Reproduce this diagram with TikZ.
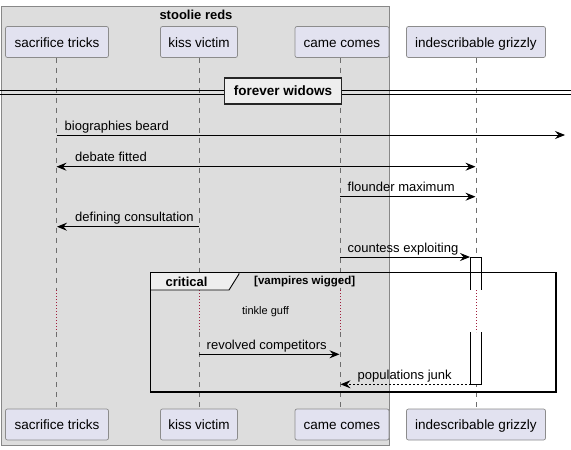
\documentclass[tikz,border=0pt]{standalone}
\usepackage{fontspec}
\setmainfont{Liberation Sans}
\usetikzlibrary{arrows.meta}
\definecolor{grpfill}{RGB}{221,221,221}
\definecolor{grpline}{RGB}{136,136,136}
\definecolor{partfill}{RGB}{226,226,240}
\definecolor{partline}{RGB}{140,140,140}
\definecolor{tabfill}{RGB}{238,238,238}
\definecolor{delaycol}{RGB}{160,30,60}
\definecolor{lifecol}{RGB}{110,110,110}
\begin{document}
\begin{tikzpicture}[x=1pt,y=-1pt,
  part/.style={draw=partline,line width=0.7pt,fill=partfill,rounded corners=2pt,
    minimum height=31pt,inner xsep=0pt,text height=11.5pt,text depth=1.5pt,font=\fontsize{13.5}{15}\selectfont},
  life/.style={draw=lifecol,line width=0.6pt,dash pattern=on 5pt off 5pt},
  delay/.style={draw=delaycol,line width=0.8pt,dash pattern=on 1pt off 2pt},
  msg/.style={draw=black,line width=0.8pt,-{Stealth[length=10pt,width=8pt,inset=3.5pt]}},
  dmsg/.style={msg,dash pattern=on 2pt off 2pt},
  bmsg/.style={draw=black,line width=0.8pt,{Stealth[length=10pt,width=8pt,inset=3.5pt]}-{Stealth[length=10pt,width=8pt,inset=3.5pt]}},
  lbl/.style={anchor=base west,inner sep=0pt,font=\fontsize{13}{15}\selectfont},
  boldtxt/.style={inner sep=0pt,font=\fontsize{13}{15}\selectfont\bfseries}]
\useasboundingbox (0,0) rectangle (571,450);
\fill[white] (0,0) rectangle (571,450);
% group box
\draw[fill=grpfill,draw=grpline,line width=0.8pt] (1,6.7) rectangle (389.5,445);
\node[boldtxt] (grptitle) at (196,15) {stoolie reds};
% participants
\node[part,minimum width=103pt] (sT) at (57,42) {sacrifice tricks};
\node[part,minimum width=77pt] (kT) at (199,42) {kiss victim};
\node[part,minimum width=94pt] (cT) at (342,42) {came comes};
\node[part,minimum width=139pt] (iT) at (476,42) {indescribable grizzly};
\node[part,minimum width=103pt] (sB) at (57,424.5) {sacrifice tricks};
\node[part,minimum width=77pt] (kB) at (199,424.5) {kiss victim};
\node[part,minimum width=94pt] (cB) at (342,424.5) {came comes};
\node[part,minimum width=139pt] (iB) at (476,424.5) {indescribable grizzly};
% lifeline coordinates
\coordinate (sA) at (56.5,57.5); \coordinate (sD1) at (56.5,290); \coordinate (sD2) at (56.5,332); \coordinate (sZ) at (56.5,409);
\coordinate (kA) at (199,57.5); \coordinate (kD1) at (199,290); \coordinate (kD2) at (199,332); \coordinate (kZ) at (199,409);
\coordinate (cA) at (340,57.5); \coordinate (cD1) at (340,290); \coordinate (cD2) at (340,332); \coordinate (cZ) at (340,409);
\coordinate (iA) at (476,57.5); \coordinate (iD1) at (476,290); \coordinate (iD2) at (476,332); \coordinate (iZ) at (476,409);
\draw[life] (sA) -- (sD1); \draw[life] (sD2) -- (sZ);
\draw[life] (kA) -- (kD1); \draw[life] (kD2) -- (kZ);
\draw[life] (cA) -- (cD1); \draw[life] (cD2) -- (cZ);
\draw[life] (iA) -- (iD1); \draw[life] (iD2) -- (iZ);
\draw[delay] (sD1) -- (sD2);
\draw[delay] (kD1) -- (kD2);
\draw[delay] (cD1) -- (cD2);
% divider
\coordinate (dl1) at (0,90.7); \coordinate (dr1) at (571,90.7);
\coordinate (dl2) at (0,94.2); \coordinate (dr2) at (571,94.2);
\draw[line width=1pt] (dl1) -- (dr1);
\draw[line width=1pt] (dl2) -- (dr2);
\node[draw=black!85,line width=1.8pt,fill=tabfill,minimum width=117pt,minimum height=26pt,inner sep=0pt,
  font=\fontsize{13.5}{15}\selectfont\bfseries] (div) at (283,91) {forever widows};
% activation
\coordinate (a1) at (470.5,257); \coordinate (a2) at (481,257);
\coordinate (a3) at (470.5,384.3); \coordinate (a4) at (481,384.3);
\fill[white] (a1) rectangle (a4);
\draw[line width=0.8pt] (470.5,290) -- (a1) -- (a2) -- (481,290);
\draw[line width=0.8pt] (470.5,332) -- (a3) -- (a4) -- (481,332);
\draw[delay] (iD1) -- (iD2);
% messages
\coordinate (m1a) at (56.5,135); \coordinate (m1b) at (565,135);
\draw[msg] (m1a) -- (m1b);
\node[lbl] (t1) at (64.5,130) {biographies beard};
\coordinate (m2a) at (56.5,166.7); \coordinate (m2b) at (475.5,166.7);
\draw[bmsg] (m2a) -- (m2b);
\node[lbl] (t2) at (75,161.7) {debate fitted};
\coordinate (m3a) at (340,196.7); \coordinate (m3b) at (475.5,196.7);
\draw[msg] (m3a) -- (m3b);
\node[lbl] (t3) at (347.5,191.7) {flounder maximum};
\coordinate (m4a) at (199,226.7); \coordinate (m4b) at (57,226.7);
\draw[msg] (m4a) -- (m4b);
\node[lbl] (t4) at (75,221.7) {defining consultation};
\coordinate (m5a) at (340,257); \coordinate (m5b) at (470,257);
\draw[msg] (m5a) -- (m5b);
\node[lbl] (t5) at (347.5,252) {countess exploiting};
% critical frame
\coordinate (f1) at (150.5,272.5); \coordinate (f2) at (556,392.3);
\draw[fill=tabfill,line width=0.9pt] (150.5,272.5) -- (239,272.5) -- (239,274) -- (229,290) -- (150.5,290) -- cycle;
\draw[line width=1.8pt] (f1) rectangle (f2);
\node[inner sep=0pt,font=\fontsize{13}{15}\selectfont\bfseries] (crit) at (186.5,282) {critical};
\node[inner sep=0pt,font=\fontsize{11.5}{13}\selectfont\bfseries] (cond) at (304.7,281.5) {[vampires wigged]};
\node[inner sep=0pt,font=\fontsize{11}{12}\selectfont] (tg) at (265.5,311.7) {tinkle guff};
\coordinate (m6a) at (199,354.3); \coordinate (m6b) at (339.5,354.3);
\draw[msg] (m6a) -- (m6b);
\node[lbl] (t6) at (206.5,349.5) {revolved competitors};
\coordinate (m7a) at (470.5,384.3); \coordinate (m7b) at (340.5,384.3);
\draw[dmsg] (m7a) -- (m7b);
\node[lbl] (t7) at (357.5,379.5) {populations junk};
\end{tikzpicture}
\end{document}
